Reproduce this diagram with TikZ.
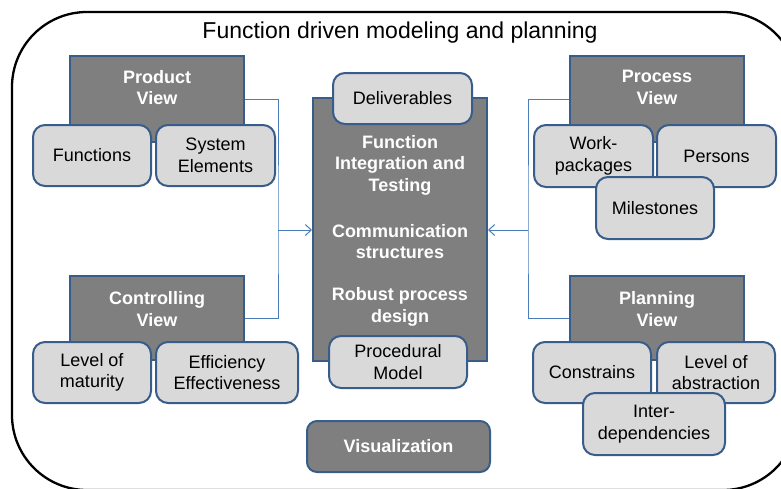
\documentclass[tikz,border=0pt]{standalone}
\usepackage{fontspec}
\setmainfont{Liberation Sans}
\usetikzlibrary{arrows.meta}
\definecolor{bord}{HTML}{385D8A}
\definecolor{dk}{HTML}{7F7F7F}
\definecolor{lt}{HTML}{D9D9D9}
\definecolor{connc}{HTML}{4A7EBB}
\begin{document}
\begin{tikzpicture}[x=1pt,y=-1pt,
  darkbox/.style={draw=bord, fill=dk, line width=2pt, inner sep=0pt},
  vizbox/.style={darkbox, rounded corners=10pt, text=white, font=\bfseries\fontsize{18}{21.6}\selectfont},
  lightbox/.style={draw=bord, fill=lt, line width=2pt, rounded corners=12pt, inner sep=0pt, align=center, font=\fontsize{18}{21.6}\selectfont},
  wlabel/.style={text=white, font=\bfseries\fontsize{18}{21.6}\selectfont, align=center, inner sep=0pt},
  connline/.style={draw=connc, line width=1pt},
  connarrow/.style={connline, -{Straight Barb[length=6pt,width=11pt]}},
]
\useasboundingbox (0,0) rectangle (781,488);
\begin{scope}
\clip (0,0) rectangle (781,488);
\node[draw=black, line width=2.3pt, rounded corners=75pt, minimum width=786pt, minimum height=478pt, inner sep=0pt] (frame) at (405,251) {};
\end{scope}
\node[font=\fontsize{23}{27}\selectfont, inner sep=0pt] (title) at (400,33) {Function driven modeling and planning};

% Product view
\node[darkbox, minimum width=174pt, minimum height=86pt] (pv) at (157,99) {};
\node[wlabel] (pvl) at (157,87.5) {Product\\View};
\node[lightbox, minimum width=118pt, minimum height=61pt] (fn) at (92,155.5) {Functions};
\node[lightbox, minimum width=119pt, minimum height=61pt] (se) at (215.5,155.5) {System\\Elements};

% Controlling view
\node[darkbox, minimum width=174pt, minimum height=84pt] (cv) at (157,318) {};
\node[wlabel] (cvl) at (157,309) {Controlling\\View};
\node[lightbox, minimum width=118pt, minimum height=61pt] (lm) at (92,372.5) {Level of\\maturity};
\node[lightbox, minimum width=142pt, minimum height=61pt] (ee) at (227,372.5) {Efficiency\\Effectiveness};

% Center
\node[darkbox, minimum width=174pt, minimum height=263pt] (cb) at (400,229.5) {};
\node[lightbox, minimum width=139pt, minimum height=51pt] (dl) at (402.5,98.5) {Deliverables};
\node[wlabel] (c1) at (400,165) {Function\\Integration and\\Testing};
\node[wlabel] (c2) at (400,241.5) {Communication\\structures};
\node[wlabel] (c3) at (400,307) {Robust process\\design};
\node[lightbox, minimum width=138pt, minimum height=52pt] (pm) at (398,362) {Procedural\\Model};
\node[vizbox, minimum width=183pt, minimum height=51pt] (vz) at (398.5,446.5) {Visualization};

% Process view
\node[darkbox, minimum width=174pt, minimum height=86pt] (prv) at (657,99) {};
\node[wlabel] (prvl) at (657,87.5) {Process\\View};
\node[lightbox, minimum width=119pt, minimum height=62pt] (wp) at (593.5,156) {Work-\\packages};
\node[lightbox, minimum width=119pt, minimum height=62pt] (ps) at (716.5,156) {Persons};
\node[lightbox, minimum width=118pt, minimum height=62pt] (ms) at (655,208) {Milestones};

% Planning view
\node[darkbox, minimum width=174pt, minimum height=84pt] (plv) at (657,318) {};
\node[wlabel] (plvl) at (657,309) {Planning\\View};
\node[lightbox, minimum width=118pt, minimum height=61pt] (cs) at (592,372.5) {Constrains};
\node[lightbox, minimum width=118pt, minimum height=61pt] (la) at (716,372.5) {Level of\\abstraction};
\node[lightbox, minimum width=142pt, minimum height=62pt] (id) at (654,424) {Inter-\\dependencies};

% Connectors
\coordinate (jl) at (278,230);
\coordinate (jr) at (528,230);
\draw[connline] (pv.east) -| (jl) |- (cv.east);
\draw[connarrow] (jl) -- (cb.west |- jl);
\draw[connline] (prv.west) -| (jr) |- (plv.west);
\draw[connarrow] (jr) -- (cb.east |- jr);
\end{tikzpicture}
\end{document}
